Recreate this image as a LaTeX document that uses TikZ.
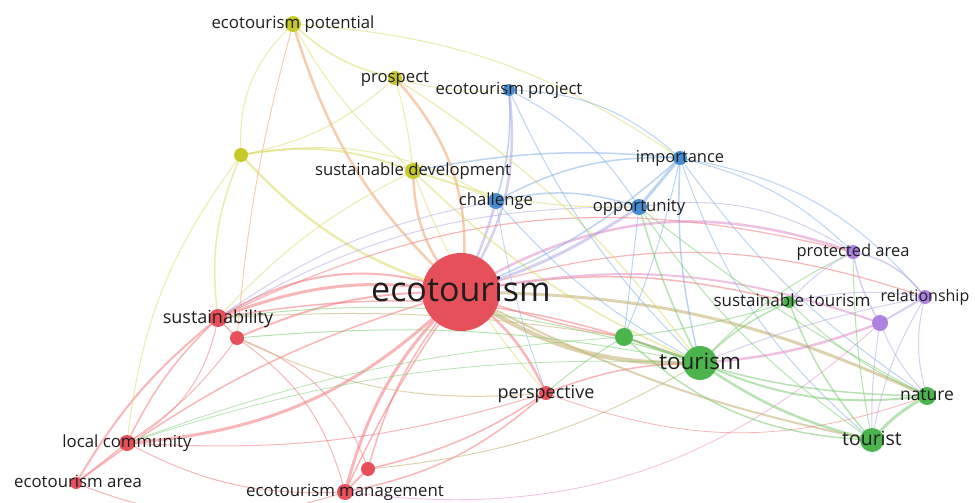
\documentclass[tikz,border=0pt]{standalone}
\usepackage{fontspec}
\setmainfont{Open Sans}
\usetikzlibrary{backgrounds}
\definecolor{cred}{RGB}{230,80,90}
\definecolor{cgreen}{RGB}{76,180,76}
\definecolor{cblue}{RGB}{70,140,210}
\definecolor{cyel}{RGB}{200,200,40}
\definecolor{cpur}{RGB}{175,130,225}
\definecolor{ered}{RGB}{242,110,115}
\definecolor{egreen}{RGB}{110,200,100}
\definecolor{eblue}{RGB}{120,170,225}
\definecolor{eyel}{RGB}{215,215,90}
\definecolor{eorange}{RGB}{238,165,110}
\definecolor{etan}{RGB}{200,180,120}
\definecolor{epink}{RGB}{225,140,200}
\definecolor{elav}{RGB}{175,160,225}
\definecolor{ltxt}{RGB}{30,30,30}
\tikzset{
  nd/.style={circle,fill=#1,inner sep=0pt,draw=none},
  lbl/.style={text=ltxt,inner sep=0pt,anchor=base},
  ER/.style={draw=ered,draw opacity=.5},
  EG/.style={draw=egreen,draw opacity=.5},
  EB/.style={draw=eblue,draw opacity=.5},
  EY/.style={draw=eyel,draw opacity=.5},
  EO/.style={draw=eorange,draw opacity=.55},
  ET/.style={draw=etan,draw opacity=.6},
  EP/.style={draw=epink,draw opacity=.55},
  EL/.style={draw=elav,draw opacity=.5},
}
\newcommand\ed[5]{\draw[#3,line width=#4pt,bend left=#5] (#1.center) to (#2.center);}
\newcommand\lab[4][0]{\node[lbl,font=\fontsize{#3}{#3}\selectfont] at ([xshift=#1pt,yshift=-0.28*#3pt]#2.center) {#4};}
\begin{document}
\begin{tikzpicture}[x=1pt,y=-1pt]
\useasboundingbox (0,0) rectangle (975,503);
% nodes
\node[nd=cred,minimum size=78pt] (eco) at (461,292) {};
\node[nd=cgreen,minimum size=34pt] (tsm) at (700,363) {};
\node[nd=cgreen,minimum size=24pt] (tst) at (872,440) {};
\node[nd=cgreen,minimum size=18pt] (nat) at (927,396) {};
\node[nd=cgreen,minimum size=12pt] (stt) at (789,302) {};
\node[nd=cgreen,minimum size=18pt] (g1) at (624,337) {};
\node[nd=cpur,minimum size=14pt] (rel) at (925,297) {};
\node[nd=cpur,minimum size=16pt] (p1) at (880,323) {};
\node[nd=cpur,minimum size=14pt] (pa) at (853,252) {};
\node[nd=cblue,minimum size=14pt] (imp) at (680,158) {};
\node[nd=cblue,minimum size=16pt] (opp) at (639,207) {};
\node[nd=cblue,minimum size=16pt] (chl) at (496,201) {};
\node[nd=cblue,minimum size=12pt] (ep) at (509,90) {};
\node[nd=cyel,minimum size=14pt] (pro) at (395,78) {};
\node[nd=cyel,minimum size=16pt] (epo) at (293,24) {};
\node[nd=cyel,minimum size=16pt] (sd) at (413,171) {};
\node[nd=cyel,minimum size=14pt] (y1) at (241,155) {};
\node[nd=cred,minimum size=18pt] (sus) at (218,318) {};
\node[nd=cred,minimum size=14pt] (r1) at (237,338) {};
\node[nd=cred,minimum size=14pt] (per) at (546,393) {};
\node[nd=cred,minimum size=16pt] (lc) at (127,443) {};
\node[nd=cred,minimum size=12pt] (ea) at (76,483) {};
\node[nd=cred,minimum size=16pt] (em) at (345,492) {};
\node[nd=cred,minimum size=14pt] (r2) at (368,469) {};
% edges
\begin{scope}[on background layer]
% red
\ed{sus}{eco}{ER}{3}{15}
\ed{sus}{eco}{ER}{2}{25}
\ed{r1}{eco}{ER}{2}{12}
\ed{lc}{eco}{ER}{3}{-20}
\ed{ea}{eco}{ER}{1.5}{10}
\ed{ea}{sus}{ER}{2}{10}
\ed{em}{eco}{ER}{3}{15}
\ed{em}{eco}{ER}{1.5}{5}
\ed{r2}{eco}{ER}{1.5}{12}
\ed{per}{eco}{ER}{2.5}{-15}
\ed{eco}{tsm}{ET}{4.5}{-18}
\ed{eco}{g1}{ER}{1.5}{-5}
\ed{eco}{stt}{ER}{1.5}{12}
\ed{eco}{pa}{EP}{2.5}{25}
\ed{eco}{p1}{EP}{2}{15}
\ed{eco}{rel}{ER}{1.2}{18}
\ed{eco}{tst}{ET}{2}{-8}
\ed{eco}{nat}{ET}{3}{12}
\ed{opp}{eco}{EL}{3}{8}
\ed{chl}{eco}{EL}{2.5}{5}
\ed{ep}{eco}{EL}{2.5}{20}
\ed{imp}{eco}{EB}{1.5}{10}
\ed{sd}{eco}{EO}{2.5}{-20}
\ed{pro}{eco}{EO}{2.5}{25}
\ed{epo}{eco}{EO}{2.5}{-15}
\ed{y1}{eco}{EY}{2.5}{-15}
\ed{sus}{r1}{ER}{1.5}{0}
\ed{sus}{lc}{ER}{1.5}{-10}
\ed{lc}{sus}{ER}{1}{-25}
\ed{r1}{lc}{ER}{1}{10}
\ed{r1}{r2}{ER}{1}{25}
\ed{r1}{em}{ER}{1}{20}
\ed{r1}{per}{ET}{1}{-15}
\ed{sus}{tsm}{ER}{1.5}{15}
\ed{sus}{opp}{EL}{1}{15}
\ed{sus}{pa}{ER}{1.2}{20}
\ed{sus}{chl}{EL}{1}{12}
\ed{lc}{ea}{ER}{1.5}{0}
\ed{lc}{em}{ER}{1}{-15}
\ed{ea}{em}{ER}{1}{-20}
\ed{em}{r2}{ER}{2}{0}
\ed{em}{per}{ER}{1.5}{-15}
\ed{r2}{per}{ER}{1.5}{-10}
\ed{r2}{tsm}{ET}{1}{-12}
\ed{em}{p1}{EP}{0.8}{-25}
\ed{per}{nat}{ER}{0.8}{-20}
\ed{per}{tsm}{ER}{1.5}{10}
\ed{lc}{per}{ER}{1}{-10}
% yellow
\ed{epo}{y1}{EY}{1}{-25}
\ed{epo}{pro}{EY}{1.5}{-15}
\ed{epo}{sd}{EY}{1}{-10}
\ed{epo}{imp}{EY}{1}{15}
\ed{epo}{r1}{EO}{1}{-5}
\ed{pro}{y1}{EY}{1}{15}
\ed{pro}{sd}{EY}{1}{5}
\ed{pro}{tsm}{EY}{1.2}{10}
\ed{pro}{ep}{EY}{0.8}{-10}
\ed{y1}{sd}{EY}{2}{15}
\ed{y1}{chl}{EY}{1}{20}
\ed{y1}{sus}{EY}{1.5}{-15}
\ed{y1}{lc}{EY}{1}{-15}
\ed{sd}{chl}{EY}{1}{5}
\ed{sd}{opp}{EY}{1}{-10}
\ed{sd}{tsm}{EY}{1.5}{-10}
\ed{sd}{per}{EY}{1}{-10}
\ed{sd}{sus}{EY}{1}{-10}
% blue
\ed{ep}{chl}{EB}{1.5}{10}
\ed{ep}{opp}{EB}{1}{15}
\ed{ep}{imp}{EB}{1}{20}
\ed{ep}{tsm}{EB}{1}{-10}
\ed{chl}{opp}{EB}{1.5}{15}
\ed{chl}{imp}{EB}{1.5}{15}
\ed{imp}{opp}{EB}{3}{0}
\ed{imp}{sd}{EB}{1.5}{-8}
\ed{imp}{tsm}{EB}{1.5}{-8}
\ed{imp}{tst}{EB}{1}{-15}
\ed{imp}{pa}{EB}{1}{15}
\ed{imp}{rel}{EB}{1}{20}
\ed{imp}{nat}{EB}{1}{-10}
\ed{imp}{g1}{EB}{1}{5}
\ed{opp}{tsm}{EG}{1.5}{-5}
\ed{opp}{tst}{EG}{1}{-10}
\ed{opp}{g1}{EB}{1}{0}
\ed{opp}{pa}{EL}{1}{20}
\ed{opp}{nat}{EG}{1}{-5}
\ed{chl}{tsm}{EB}{1}{-10}
\ed{chl}{per}{EB}{0.8}{-5}
% green
\ed{tsm}{tst}{EG}{2.5}{-10}
\ed{tsm}{nat}{EG}{2}{-15}
\ed{tsm}{g1}{EG}{2}{0}
\ed{tsm}{stt}{EG}{1.5}{10}
\ed{tsm}{pa}{EG}{1}{10}
\ed{tsm}{rel}{EL}{1}{5}
\ed{tsm}{p1}{EP}{2.5}{-8}
\ed{tst}{nat}{EG}{3}{10}
\ed{stt}{tst}{EG}{1.5}{-10}
\ed{pa}{tst}{EG}{1}{-5}
\ed{rel}{tst}{EL}{1}{-10}
\ed{p1}{tst}{EL}{1}{-5}
\ed{g1}{tst}{EG}{1.5}{-20}
\ed{g1}{nat}{EG}{1.5}{-10}
\ed{stt}{nat}{EG}{1}{-10}
\ed{p1}{nat}{EL}{1}{-10}
\ed{rel}{nat}{EL}{1}{-15}
\ed{stt}{g1}{EG}{1}{5}
\ed{g1}{per}{EG}{1}{-5}
\ed{tsm}{sus}{EG}{1}{-12}
\ed{tsm}{r1}{EG}{1}{-8}
\ed{g1}{sus}{ET}{1}{-6}
\ed{tsm}{lc}{EG}{0.8}{-10}
\ed{g1}{lc}{EG}{0.8}{-8}
% purple
\ed{pa}{rel}{EL}{1.5}{20}
\ed{pa}{p1}{EL}{1.5}{-10}
\ed{rel}{p1}{EL}{2}{0}
\ed{pa}{stt}{EL}{1}{-10}
\ed{stt}{rel}{EL}{1}{10}
\end{scope}
% labels
\lab{eco}{34}{ecotourism}
\lab{tsm}{22.5}{tourism}
\lab{tst}{19.5}{tourist}
\lab{nat}{17.5}{nature}
\lab[3]{stt}{17}{sustainable tourism}
\lab{rel}{16}{relationship}
\lab{pa}{16.5}{protected area}
\lab{imp}{16.4}{importance}
\lab{opp}{16.7}{opportunity}
\lab{chl}{16.7}{challenge}
\lab{ep}{16.7}{ecotourism project}
\lab{pro}{16.7}{prospect}
\lab{epo}{16.8}{ecotourism potential}
\lab{sd}{16.7}{sustainable development}
\lab{sus}{18}{sustainability}
\lab{per}{18}{perspective}
\lab{lc}{16.8}{local community}
\lab[2]{ea}{16.8}{ecotourism area}
\lab{em}{16.8}{ecotourism management}
\end{tikzpicture}
\end{document}
